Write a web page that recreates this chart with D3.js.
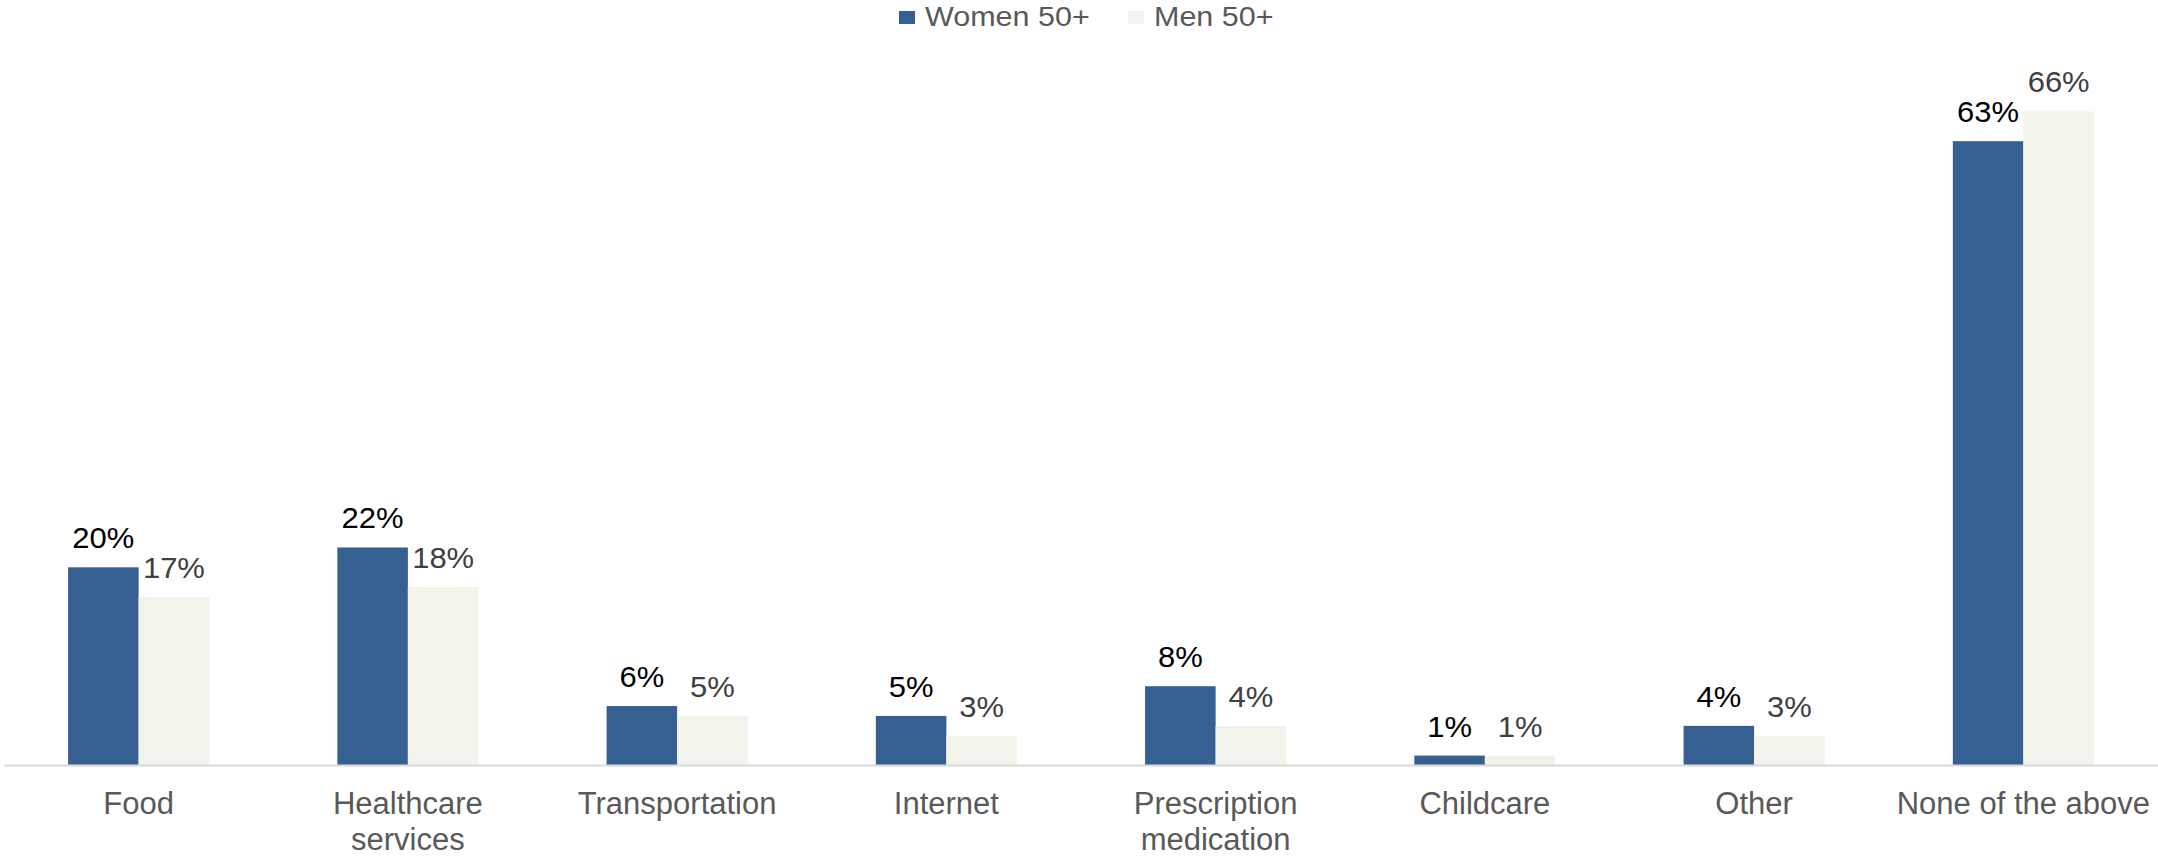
<!DOCTYPE html>
<html>
<head>
<meta charset="utf-8">
<script src="https://cdn.jsdelivr.net/npm/d3@7"></script>
<style>
html,body{margin:0;padding:0;background:#fff;}
svg{display:block;font-family:Arial,"Liberation Sans",sans-serif;}
</style>
</head>
<body>
<svg id="chart" width="2158" height="856"></svg>
<script>
const categories = ["Food", "Healthcare\nservices", "Transportation", "Internet", "Prescription\nmedication", "Childcare", "Other", "None of the above"];
const seriesNames = ["Women 50+", "Men 50+"];
const women = [20, 22, 6, 5, 8, 1, 4, 63];
const men = [17, 18, 5, 3, 4, 1, 3, 66];
const colors = ["#376092", "#F3F3EC"];
const labelColors = ["#000000", "#404040"];

const svg = d3.select("#chart");
const x0 = d3.scaleBand().domain(categories).range([4, 2158]).paddingInner(0.476).paddingOuter(0.238);
const x1 = d3.scaleBand().domain(seriesNames).range([0, x0.bandwidth()]);
const y = d3.scaleLinear().domain([0, 70]).range([765.5, 71.8]);

const data = categories.map((c, i) => ({cat: c, vals: [women[i], men[i]]}));

const g = svg.append("g");
const groups = g.selectAll("g.cat").data(data).join("g")
  .attr("transform", d => `translate(${x0(d.cat)},0)`);

groups.selectAll("rect").data(d => d.vals.map((v, j) => ({v, j}))).join("rect")
  .attr("x", d => x1(seriesNames[d.j]))
  .attr("width", x1.bandwidth())
  .attr("y", d => y(d.v))
  .attr("height", d => y(0) - y(d.v))
  .attr("fill", d => colors[d.j]);

groups.selectAll("text.val").data(d => d.vals.map((v, j) => ({v, j}))).join("text")
  .attr("class", "val")
  .attr("transform", d => `translate(${x1(seriesNames[d.j]) + x1.bandwidth() / 2},${y(d.v) - 19}) scale(1.05,1)`)
  .attr("text-anchor", "middle")
  .attr("font-size", 29.5)
  .attr("fill", d => labelColors[d.j])
  .text(d => d.v + "%");

// axis baseline
const xAxis = d3.axisBottom(x0).tickSize(0).tickFormat("");
const ax = svg.append("g").attr("transform", `translate(0,${y(0)})`).call(xAxis);
ax.select(".domain").attr("stroke", "#D9D9D9").attr("stroke-width", 2).attr("d", "M4,0H2158");

// category labels
const labels = svg.append("g").selectAll("text").data(categories).join("text")
  .attr("x", d => x0(d) + x0.bandwidth() / 2)
  .attr("y", 814)
  .attr("text-anchor", "middle")
  .attr("font-size", 31)
  .attr("fill", "#595959");
labels.each(function(d) {
  const lines = d.split("\n");
  d3.select(this).selectAll("tspan").data(lines).join("tspan")
    .attr("x", x0(d) + x0.bandwidth() / 2)
    .attr("dy", (l, i) => i === 0 ? 0 : 36)
    .text(l => l);
});

// legend
const legendPos = [899, 1128];
const leg = svg.append("g");
seriesNames.forEach((s, i) => {
  leg.append("rect").attr("x", legendPos[i]).attr("y", 11).attr("width", 16).attr("height", 13).attr("fill", colors[i]);
  leg.append("text").attr("transform", `translate(${legendPos[i] + 26},26) scale(1.13,1)`)
    .attr("font-size", 27).attr("fill", "#595959").text(s);
});
</script>
</body>
</html>
